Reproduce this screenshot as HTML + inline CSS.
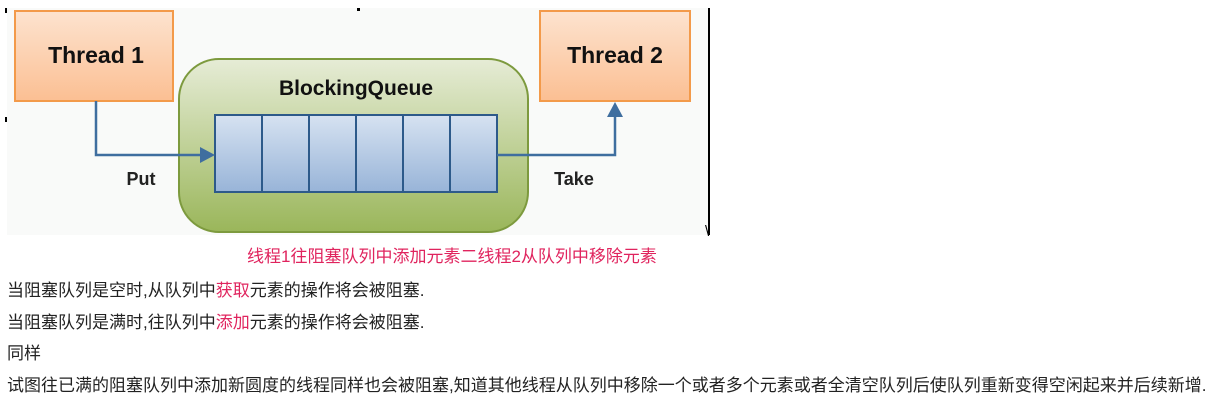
<!DOCTYPE html>
<html><head><meta charset="utf-8"><style>
body{margin:0;width:1218px;height:403px;background:#fff;position:relative;overflow:hidden;font-family:"Liberation Sans","Noto Sans CJK SC",sans-serif;}
.t{position:absolute;font-size:17px;color:#222;white-space:nowrap;line-height:20px;}
.r{color:#e0245e;}
</style></head><body>
<svg style="position:absolute;left:0;top:0" width="720" height="240">
<defs>
<linearGradient id="o" x1="0" y1="0" x2="0" y2="1"><stop offset="0" stop-color="#fde3cf"/><stop offset="1" stop-color="#fbbf93"/></linearGradient>
<linearGradient id="g" x1="0" y1="0" x2="0" y2="1"><stop offset="0" stop-color="#e6ecd6"/><stop offset="1" stop-color="#9ab65a"/></linearGradient>
<linearGradient id="b" x1="0" y1="0" x2="0" y2="1"><stop offset="0" stop-color="#d6e2f1"/><stop offset="1" stop-color="#98b4d8"/></linearGradient>
</defs>
<rect x="7" y="8" width="702" height="227" fill="#f9faf9"/>
<rect x="5" y="8" width="2" height="5" fill="#000"/><rect x="357" y="8" width="3" height="3" fill="#000"/><rect x="708" y="8" width="2" height="227" fill="#000"/><rect x="5" y="117" width="2" height="5" fill="#000"/>
<rect x="15" y="11" width="158" height="90" fill="url(#o)" stroke="#f39a4a" stroke-width="2"/>
<text x="96" y="63" font-family="Liberation Sans" font-weight="bold" font-size="23" text-anchor="middle" fill="#111">Thread 1</text>
<rect x="540" y="11" width="150" height="90" fill="url(#o)" stroke="#f39a4a" stroke-width="2"/>
<text x="615" y="63" font-family="Liberation Sans" font-weight="bold" font-size="23" text-anchor="middle" fill="#111">Thread 2</text>
<rect x="179" y="59" width="349" height="173" rx="40" fill="url(#g)" stroke="#7d9a3e" stroke-width="2"/>
<text x="356" y="95" font-family="Liberation Sans" font-weight="bold" font-size="21" text-anchor="middle" fill="#111">BlockingQueue</text>
<rect x="215" y="115" width="282" height="77" fill="url(#b)" stroke="#2d5a8a" stroke-width="2"/>
<g stroke="#2d5a8a" stroke-width="2"><line x1="262" y1="115" x2="262" y2="192"/><line x1="309" y1="115" x2="309" y2="192"/><line x1="356" y1="115" x2="356" y2="192"/><line x1="403" y1="115" x2="403" y2="192"/><line x1="450" y1="115" x2="450" y2="192"/></g>
<polyline points="96,101 96,155 205,155" fill="none" stroke="#3f6e9f" stroke-width="2.5"/>
<polygon points="215,155 200,147 200,163" fill="#3f6e9f"/>
<polyline points="497,155 615,155 615,112" fill="none" stroke="#3f6e9f" stroke-width="2.5"/>
<polygon points="615,102 607,117 623,117" fill="#3f6e9f"/>
<text x="141" y="185" font-family="Liberation Sans" font-weight="bold" font-size="18" text-anchor="middle" fill="#222">Put</text>
<text x="574" y="185" font-family="Liberation Sans" font-weight="bold" font-size="18" text-anchor="middle" fill="#222">Take</text>
<text x="705" y="236" font-size="15" fill="#000" font-family="Liberation Sans">\</text>
</svg>
<div class="t r" style="left:247px;top:247px;">线程1往阻塞队列中添加元素二线程2从队列中移除元素</div>
<div class="t" style="left:7px;top:281px;">当阻塞队列是空时,从队列中<span class="r">获取</span>元素的操作将会被阻塞.</div>
<div class="t" style="left:7px;top:313px;">当阻塞队列是满时,往队列中<span class="r">添加</span>元素的操作将会被阻塞.</div>
<div class="t" style="left:7px;top:344px;">同样</div>
<div class="t" style="left:7px;top:376px;">试图往已满的阻塞队列中添加新圆度的线程同样也会被阻塞,知道其他线程从队列中移除一个或者多个元素或者全清空队列后使队列重新变得空闲起来并后续新增.</div>
</body></html>
